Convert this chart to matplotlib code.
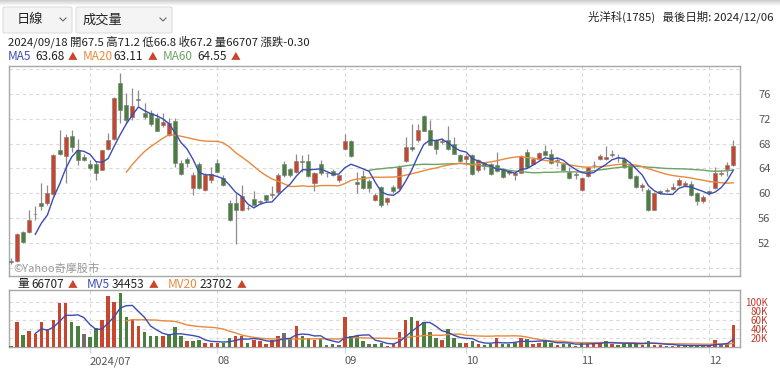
import numpy as np
import pandas as pd
import matplotlib
matplotlib.use("Agg")
import matplotlib.pyplot as plt
from matplotlib.patches import FancyBboxPatch
from matplotlib.lines import Line2D

plt.rcParams['font.family'] = ['Noto Sans CJK TC', 'DejaVu Sans']

# daily OHLC (光洋科 1785), 2024/06 .. 2024/12/06
opens = [49.2, 49.1, 53.8, 53.8, 56.6, 58.4, 58.4, 59.9, 67.0, 66.0,
         69.2, 67.0, 65.8, 64.8, 64.8, 63.8, 67.2, 68.8, 77.8, 74.2,
         72.3, 75.0, 73.0, 73.0, 72.1, 71.0, 69.4, 71.7, 64.9, 65.6,
         60.9, 64.8, 60.5, 62.1, 64.9, 62.4, 58.4, 58.5, 57.3, 57.6,
         59.1, 58.6, 59.7, 59.8, 60.2, 64.8, 63.9, 63.5, 65.2, 65.2,
         61.6, 64.7, 63.2, 63.6, 62.1, 67.2, 68.4, 61.8, 62.8, 62.0,
         59.0, 61.0, 58.6, 61.0, 60.8, 65.2, 67.5, 68.5, 72.4, 70.2,
         68.6, 68.3, 68.6, 67.9, 66.2, 65.5, 66.2, 63.7, 64.9, 64.7,
         64.5, 63.9, 63.2, 62.9, 63.3, 66.7, 64.7, 65.5, 66.8, 66.4,
         65.2, 64.8, 63.5, 63.0, 60.5, 62.8, 64.5, 65.5, 65.5, 66.2,
         65.8, 65.6, 64.6, 62.8, 61.0, 60.6, 57.4, 60.3, 60.3, 60.7,
         61.3, 61.3, 61.5, 60.0, 58.8, 60.4, 60.8, 63.1, 63.9, 64.6]
highs = [49.6, 53.6, 54.0, 57.3, 57.9, 61.6, 61.3, 66.3, 70.2, 69.5,
         70.2, 68.7, 66.4, 65.4, 65.2, 67.0, 69.7, 75.5, 79.4, 76.1,
         76.9, 76.6, 74.5, 73.4, 72.9, 72.9, 72.1, 72.1, 65.4, 65.8,
         63.4, 65.1, 63.2, 64.3, 65.5, 62.9, 58.9, 60.0, 61.3, 58.1,
         60.3, 58.9, 59.7, 61.2, 63.2, 65.2, 64.0, 66.4, 66.2, 66.3,
         63.4, 65.3, 63.5, 63.9, 62.9, 69.6, 68.5, 63.5, 63.7, 62.3,
         60.0, 61.2, 59.4, 61.3, 64.6, 69.0, 71.2, 71.2, 72.6, 71.8,
         68.8, 68.9, 70.8, 69.0, 66.4, 66.4, 66.4, 65.5, 65.0, 64.9,
         66.6, 64.0, 63.8, 63.3, 66.2, 67.2, 65.7, 66.6, 67.7, 67.2,
         65.8, 64.9, 64.2, 63.5, 62.6, 64.4, 65.2, 66.4, 67.6, 66.9,
         66.4, 65.8, 64.7, 63.0, 61.6, 60.8, 60.2, 60.5, 60.9, 61.6,
         62.4, 62.0, 62.0, 60.2, 59.8, 60.6, 64.2, 63.7, 65.0, 68.5]
lows = [48.6, 49.0, 52.0, 53.6, 55.7, 57.3, 58.1, 59.7, 66.2, 61.6,
        66.7, 64.5, 65.2, 63.8, 62.1, 63.7, 66.9, 68.5, 71.3, 71.3,
        71.8, 74.0, 72.0, 70.8, 70.0, 70.6, 69.2, 64.3, 63.0, 64.3,
        59.7, 60.7, 60.4, 61.7, 63.4, 61.2, 55.5, 51.9, 57.2, 57.4,
        58.0, 58.3, 58.6, 59.2, 59.9, 62.6, 62.7, 63.3, 63.5, 62.6,
        60.3, 63.0, 62.7, 62.8, 61.9, 66.9, 65.9, 60.0, 60.7, 60.2,
        58.8, 57.8, 58.2, 60.1, 60.5, 65.0, 66.8, 68.2, 70.0, 67.7,
        66.4, 67.9, 67.0, 66.3, 65.0, 64.6, 63.0, 63.5, 63.8, 63.0,
        63.4, 62.5, 62.9, 62.2, 63.2, 64.1, 64.5, 65.4, 66.0, 64.8,
        64.4, 63.7, 62.3, 62.3, 60.3, 62.6, 64.1, 65.3, 65.4, 65.8,
        65.1, 64.1, 62.3, 60.9, 60.4, 57.2, 57.3, 59.9, 60.2, 60.6,
        61.2, 61.2, 59.6, 58.1, 58.4, 59.7, 60.7, 62.8, 62.8, 64.4]
closes = [48.9, 53.5, 52.2, 55.7, 56.7, 57.9, 60.1, 66.2, 66.4, 69.1,
          67.5, 65.4, 65.4, 64.0, 63.2, 66.9, 68.5, 75.3, 73.4, 71.8,
          74.0, 75.0, 72.2, 71.1, 70.1, 71.5, 71.3, 64.9, 63.1, 64.9,
          63.0, 60.9, 63.0, 63.1, 63.5, 61.3, 55.7, 57.3, 59.6, 57.6,
          58.1, 58.6, 58.9, 59.9, 62.9, 62.9, 62.9, 65.2, 65.1, 62.8,
          63.3, 63.2, 63.2, 62.9, 62.9, 68.4, 66.0, 61.5, 60.9, 60.9,
          59.7, 58.2, 59.3, 60.3, 64.3, 67.5, 67.2, 70.2, 70.1, 67.8,
          67.1, 68.4, 67.2, 66.4, 65.2, 66.0, 63.1, 65.3, 64.4, 63.1,
          63.6, 62.7, 63.6, 63.3, 66.0, 64.3, 65.6, 66.5, 66.2, 64.9,
          65.2, 63.8, 62.4, 63.0, 62.4, 64.3, 64.6, 66.0, 65.9, 66.2,
          65.8, 64.2, 62.4, 61.0, 61.3, 57.3, 60.0, 60.1, 60.6, 61.1,
          62.2, 61.6, 59.7, 58.7, 59.4, 60.0, 63.2, 63.3, 64.6, 67.6]
# volume in thousand lots
volumes = [3, 55, 27, 35, 30, 55, 40, 61, 98, 98,
           55, 46, 30, 22, 42, 59, 114, 99, 120, 67,
           62, 47, 33, 24, 24, 24, 30, 44, 25, 14,
           14, 16, 9, 10, 10, 10, 20, 24, 24, 10,
           16, 12.6, 7, 15, 25, 31, 18, 46, 24, 20,
           15, 20, 5, 7, 5, 66, 25, 24, 12.6, 7,
           7, 10, 3, 7, 33, 61, 66.7, 57, 55, 33,
           20, 15, 40, 21, 10, 10, 12.6, 7, 5, 7,
           20, 7, 7, 10, 20, 18, 7, 10, 15, 10,
           5, 7, 7, 3, 10, 7, 10, 10, 12.6, 7,
           5, 7, 10, 9, 5, 12.6, 5, 5, 3, 3,
           5, 3, 3, 3, 3, 3, 15, 7, 10, 50]
# u = up vs previous close, d = down, n = unchanged
vol_dir = ("duduuuuuuu" "ddndduuudd" "uudddudddu" "dduuudduud"
           "uuuuunnudd" "udndnudddn" "dduuuududd" "dudddududd"
           "uddduduudd" "udduduuudu" "dddduduunu" "udddnuunuu")

month_starts = [13, 34, 55, 75, 94, 115]
month_labels = ["2024/07", "08", "09", "10", "11", "12"]
price_ticks = [48, 52, 56, 60, 64, 68, 72, 76, 80]
vol_ticks = [20, 40, 60, 80, 100]

RED = "#c8462e"
GREEN = "#4b7f3f"
GRAY = "#6e6e6e"
C_MA5 = "#3b4db3"
C_MA20 = "#e8893c"
C_MA60 = "#6aa363"
W, H = 780, 392


def px(x, y):
    return x / W, 1 - y / H


fig = plt.figure(figsize=(W / 100, H / 100), dpi=100)
fig.patch.set_facecolor("white")

# top shadow
sh = fig.add_axes([0, 1 - 6 / H, 1, 6 / H])
grad = np.linspace(0.80, 1.0, 20).reshape(-1, 1)
sh.imshow(grad, aspect="auto", cmap="gray", vmin=0, vmax=1, extent=[0, 1, 0, 1])
sh.axis("off")

ax1 = fig.add_axes([9 / W, 1 - 276 / H, 731 / W, 210 / H])
ax2 = fig.add_axes([9 / W, 1 - 347 / H, 731 / W, 57 / H], sharex=ax1)

x = np.arange(len(closes))
o = np.array(opens)
c = np.array(closes)
up = c > o
dn = c < o
cols = np.where(up, RED, np.where(dn, GREEN, GRAY))

ax1.vlines(x, lows, highs, color="#8c8c8c", lw=0.9, zorder=2)
ax1.bar(x, np.maximum(np.abs(c - o), 0.12), bottom=np.minimum(o, c), width=0.66,
        color=cols, edgecolor="#7a7a7a", linewidth=0.4, zorder=3)

cs = pd.Series(closes)
ax1.plot(x, cs.rolling(60).mean(), color=C_MA60, lw=1.0, zorder=4)
ax1.plot(x, cs.rolling(20).mean(), color=C_MA20, lw=1.0, zorder=4)
ax1.plot(x, cs.rolling(5).mean(), color=C_MA5, lw=1.0, zorder=5)

ax1.set_ylim(46.71, 80.48)
ax1.set_xlim(-0.33, 120.1)
ax1.set_yticks(price_ticks)
ax1.set_yticklabels(["" if t in (48, 80) else str(t) for t in price_ticks])
ax1.yaxis.tick_right()
ax1.tick_params(axis="y", length=0, pad=13, labelsize=8, labelcolor="#555555")
ax1.tick_params(axis="x", length=0, labelbottom=False)
ax1.set_xticks(month_starts)

vcol = {"u": RED, "d": GREEN, "n": GRAY}
ax2.bar(x, volumes, width=0.58, color=[vcol[k] for k in vol_dir], zorder=3)
vs = pd.Series(volumes)
ax2.plot(x, vs.rolling(20).mean(), color=C_MA20, lw=1.0, zorder=4)
ax2.plot(x, vs.rolling(5).mean(), color=C_MA5, lw=1.0, zorder=5)
ax2.set_ylim(0, 126.7)
ax2.set_yticks(vol_ticks)
ax2.set_yticklabels([f"{t}K" for t in vol_ticks])
ax2.yaxis.tick_right()
ax2.tick_params(axis="y", length=0, pad=20, labelsize=7, labelcolor="#c0392b")
for lab in ax2.get_yticklabels():
    lab.set_horizontalalignment("right")
ax2.set_xticks(month_starts)
ax2.set_xticklabels(month_labels)
ax2.tick_params(axis="x", length=4, color="#c8d6ee", pad=2.5, labelsize=8,
                labelcolor="#555555")
for lab in ax2.get_xticklabels():
    lab.set_horizontalalignment("left")

for ax in (ax1, ax2):
    ax.grid(True, color="#d9d9d9", lw=0.8, ls=(0, (3, 3)))
    ax.set_axisbelow(True)
    for s in ax.spines.values():
        s.set_color("#a8a8a8")
        s.set_linewidth(1.0)

# dropdown boxes
for (x0, x1, label, tx) in [(3, 72, "日線", 17), (76, 172, "成交量", 83)]:
    bx, by = px(x0, 33)
    fig.patches.append(FancyBboxPatch((bx, by), (x1 - x0) / W, 26 / H,
                                      boxstyle="round,pad=0,rounding_size=0.003",
                                      transform=fig.transFigure, facecolor="#f4f4f4",
                                      edgecolor="#dddddd", lw=0.8))
    fig.text(*px(tx, 20), label, fontsize=9.5, color="#222222", va="center")
    cx = x1 - 9
    xs = [cx - 3, cx, cx + 3]
    ys = [18, 21, 18]
    fig.lines.append(Line2D([v / W for v in xs], [1 - v / H for v in ys],
                            transform=fig.transFigure, color="#666666", lw=0.8))

fig.text(*px(773, 17), "光洋科(1785)   最後日期: 2024/12/06", fontsize=8.2,
         ha="right", va="center", color="#222222")
fig.text(*px(8, 42), "2024/09/18 開67.5 高71.2 低66.8 收67.2 量66707 漲跌-0.30",
         fontsize=8.2, va="center", color="#222222")

# MA legend
for (xx, s, col) in [(8, "MA5", C_MA5), (35, "63.68", "#222222"), (68, "▲", RED),
                     (83, "MA20", C_MA20), (113, "63.11", "#222222"), (148, "▲", RED),
                     (163, "MA60", C_MA60), (197, "64.55", "#222222"), (231, "▲", RED)]:
    fig.text(*px(xx, 56), s, fontsize=8.5 if s != "▲" else 7, va="center", color=col)

# volume legend
for (xx, s, col) in [(17, "量", "#222222"), (31, "66707", "#222222"), (68, "▲", RED),
                     (87, "MV5", C_MA5), (112, "34453", "#222222"), (149, "▲", RED),
                     (168, "MV20", C_MA20), (199, "23702", "#222222"), (237, "▲", RED)]:
    fig.text(*px(xx, 284), s, fontsize=8.5 if s != "▲" else 7, va="center", color=col)

fig.text(*px(13, 269), "©Yahoo奇摩股市", fontsize=8, va="center", color="#9a9a9a")

fig.savefig("out.png", dpi=100)
